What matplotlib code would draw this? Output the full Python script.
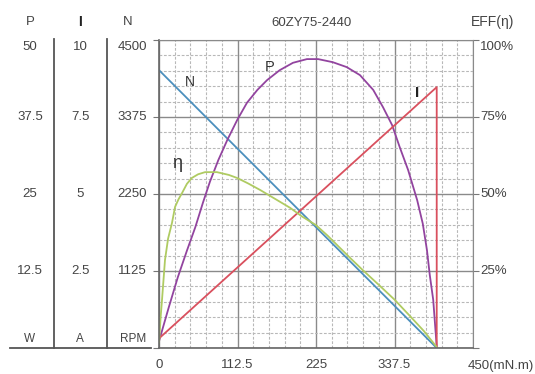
import numpy as np
import matplotlib
import matplotlib.pyplot as plt
import matplotlib.transforms as mtransforms
from matplotlib.lines import Line2D

matplotlib.use('Agg')
plt.rcParams['font.family'] = ['Liberation Sans', 'DejaVu Sans']

# dane (moment w mN.m)
n_torque = [0, 398]
n_speed = [4060, 0]  # RPM

i_torque = [0, 398, 398]
i_current = [0.31, 8.47, 0]  # A

p_torque = [0, 14, 27, 40, 52, 63, 73, 85, 98, 112, 126, 141, 155, 173, 192, 212,
            228, 249, 269, 288, 307, 321, 334, 345, 357, 370, 378, 384, 388, 393,
            398]
p_power = [1.1, 6.6, 11.5, 15.8, 19.6, 23.6, 27.0, 30.5, 33.8, 37.0, 39.8, 41.9,
           43.5, 45.1, 46.3, 46.9, 46.9, 46.4, 45.6, 44.3, 41.9, 39.1, 36.2, 32.6,
           28.9, 24.0, 20.2, 15.9, 11.9, 7.8, 0.2]  # W

eff_torque = [0, 2.4, 4.3, 8.6, 13, 18.6, 23, 28, 33, 40, 47, 56, 66, 83, 100,
              112, 128, 145, 165, 188, 205, 225, 242, 258, 275, 292, 315, 338,
              360, 380, 398]
eff_value = [1.6, 10.2, 15.6, 28.6, 35.5, 40.6, 45.8, 48.3, 50.3, 53.3, 55.2, 56.4,
             57.1, 57.1, 56.2, 55.2, 53.4, 51.3, 48.6, 45.5, 42.7, 39.9, 36.4, 32.8,
             29.0, 25.3, 20.5, 15.6, 10.3, 5.4, 0.3]  # %

left_p = ['50', '37.5', '25', '12.5']
left_i = ['10', '7.5', '5', '2.5']
left_n = ['4500', '3375', '2250', '1125']
right_eff = ['100%', '75%', '50%', '25%']
x_labels = ['0', '112.5', '225', '337.5']

W, H = 535, 374
TXT = '#444444'


def fx(px):
    return px / W


def fy(py):
    return 1 - py / H


fig = plt.figure(figsize=(W / 100, H / 100), dpi=100)
ax = fig.add_axes([fx(159), fy(348), 314 / W, 308 / H])

# wszystko rysowane w skali N (0..4500)
kw = dict(lw=1.3, solid_joinstyle='round', solid_capstyle='round')
ax.plot(n_torque, n_speed, color='#4b8fbd', **kw)
ax.plot(p_torque, np.array(p_power) * 4500 / 50, color='#92449f', **kw)
ax.plot(i_torque, np.array(i_current) * 4500 / 10, color='#d9505e', **kw)
ax.plot(eff_torque, np.array(eff_value) * 4500 / 100, color='#afcb62', **kw)

ax.set_xlim(0, 450)
ax.set_ylim(0, 4500)
ax.set_xticks(np.arange(0, 451, 112.5))
ax.set_xticks(np.arange(0, 451, 22.5), minor=True)
ax.set_yticks(np.arange(0, 4501, 1125))
ax.set_yticks(np.arange(0, 4501, 225), minor=True)
ax.grid(which='major', color='#8a8a8a', lw=1.0, ls='-')
ax.grid(which='minor', color='#b8b8b8', lw=0.8, ls=(0, (2.5, 1.5)))
ax.set_axisbelow(True)

ax.set_xticklabels(x_labels + [''])
ax.set_yticklabels([])
ax.tick_params(axis='x', which='both', length=0, pad=8, labelsize=9.5, labelcolor=TXT)
ax.tick_params(axis='y', which='major', left=True, right=True, length=4,
               color='#777777', direction='out')
ax.tick_params(axis='y', which='minor', length=0)
for s in ['top', 'right']:
    ax.spines[s].set_color('#8a8a8a')
for s in ['left', 'bottom']:
    ax.spines[s].set_color('#666666')
    ax.spines[s].set_linewidth(1.2)

ax.annotate('450(mN.m)', xy=(450, 0), xytext=(-4, -9), textcoords='offset points',
            ha='left', va='top', fontsize=9.5, color=TXT, annotation_clip=False)

# kolumny po lewej stronie
tr_left = mtransforms.blended_transform_factory(fig.transFigure, ax.transData)
yvals = ax.get_yticks()[::-1][:4]
for k, yv in enumerate(yvals):
    dy = -5 if k == 0 else 0
    for col_x, labs in [(30, left_p), (80, left_i), (132, left_n)]:
        ax.annotate(labs[k], xy=(fx(col_x), yv), xycoords=tr_left,
                    xytext=(0, dy), textcoords='offset points',
                    ha='center', va='center', fontsize=9.5, color=TXT)
    ax.annotate(right_eff[k], xy=(fx(480), yv), xycoords=tr_left,
                xytext=(0, dy), textcoords='offset points',
                ha='left', va='center', fontsize=9.5, color=TXT)

fig.text(fx(30), fy(22), 'P', ha='center', va='center', fontsize=9.5, color=TXT)
fig.text(fx(80), fy(22), 'I', ha='center', va='center', fontsize=10, color='#222222',
         fontweight='bold')
fig.text(fx(128), fy(22), 'N', ha='center', va='center', fontsize=9.5, color=TXT)
fig.text(fx(30), fy(339), 'W', ha='center', va='center', fontsize=8.5, color=TXT)
fig.text(fx(80), fy(339), 'A', ha='center', va='center', fontsize=8.5, color=TXT)
fig.text(fx(133), fy(339), 'RPM', ha='center', va='center', fontsize=8.5, color=TXT)
fig.text(fx(311), fy(23), '60ZY75-2440', ha='center', va='center', fontsize=9.5,
         color=TXT)
fig.text(fx(493), fy(22), 'EFF(η)', ha='center', va='center', fontsize=10, color=TXT)

for px in [54, 107]:
    fig.add_artist(Line2D([fx(px), fx(px)], [fy(39), fy(348)], color='#555555', lw=1.3))
fig.add_artist(Line2D([fx(10), fx(151)], [fy(348), fy(348)], color='#555555', lw=1.3))

# opisy krzywych
ax.text(44, 3890, 'N', fontsize=10, color='#333333', ha='center', va='center')
ax.text(158, 4105, 'P', fontsize=10.5, color='#333333', ha='center', va='center')
ax.text(370, 3730, 'I', fontsize=11, color='#222222', ha='center', va='center',
        fontweight='bold')
ax.text(26, 2690, 'η', fontsize=13, color='#333333', ha='center', va='center')

fig.savefig('out.png', dpi=100)
